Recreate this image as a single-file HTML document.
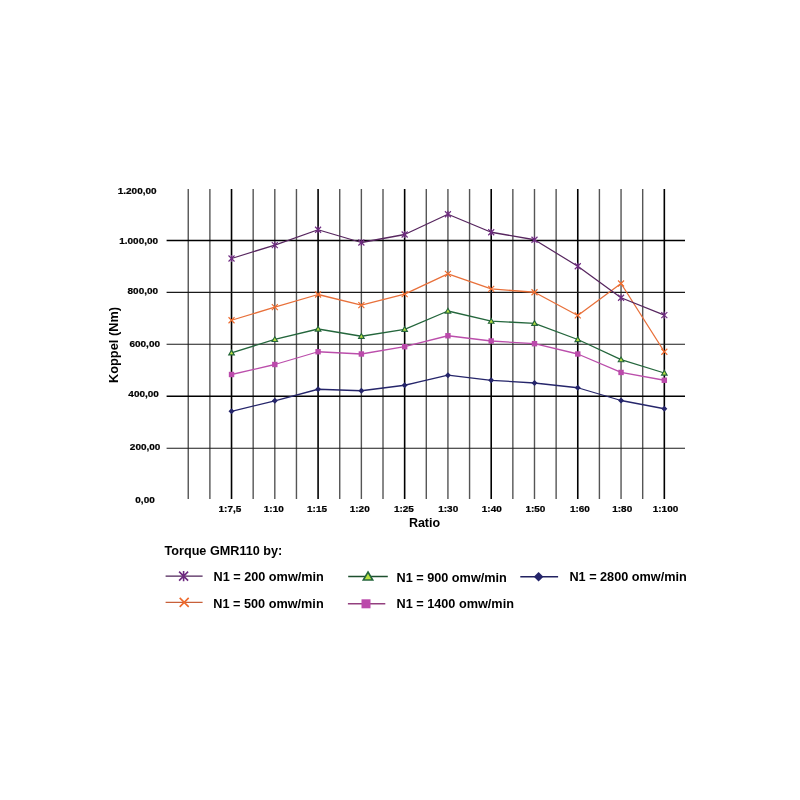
<!DOCTYPE html>
<html><head><meta charset="utf-8"><title>Torque GMR110</title>
<style>html,body{margin:0;padding:0;background:#fff;}svg{display:block;will-change:transform;}text{font-family:"Liberation Sans",Arial,Helvetica,sans-serif;font-weight:bold;fill:#000;}.t{stroke:#000;stroke-width:0.22px;}</style></head><body>
<svg width="800" height="800" viewBox="0 0 800 800">
<line x1="188.25" y1="189.0" x2="188.25" y2="499.0" stroke="#555" stroke-width="1.4"/>
<line x1="209.89" y1="189.0" x2="209.89" y2="499.0" stroke="#555" stroke-width="1.4"/>
<line x1="231.53" y1="189.0" x2="231.53" y2="499.0" stroke="#000" stroke-width="1.6"/>
<line x1="253.17" y1="189.0" x2="253.17" y2="499.0" stroke="#555" stroke-width="1.4"/>
<line x1="274.81" y1="189.0" x2="274.81" y2="499.0" stroke="#555" stroke-width="1.4"/>
<line x1="296.45" y1="189.0" x2="296.45" y2="499.0" stroke="#555" stroke-width="1.4"/>
<line x1="318.09" y1="189.0" x2="318.09" y2="499.0" stroke="#000" stroke-width="1.6"/>
<line x1="339.73" y1="189.0" x2="339.73" y2="499.0" stroke="#555" stroke-width="1.4"/>
<line x1="361.37" y1="189.0" x2="361.37" y2="499.0" stroke="#555" stroke-width="1.4"/>
<line x1="383.01" y1="189.0" x2="383.01" y2="499.0" stroke="#555" stroke-width="1.4"/>
<line x1="404.65" y1="189.0" x2="404.65" y2="499.0" stroke="#000" stroke-width="1.6"/>
<line x1="426.29" y1="189.0" x2="426.29" y2="499.0" stroke="#555" stroke-width="1.4"/>
<line x1="447.93" y1="189.0" x2="447.93" y2="499.0" stroke="#555" stroke-width="1.4"/>
<line x1="469.57" y1="189.0" x2="469.57" y2="499.0" stroke="#555" stroke-width="1.4"/>
<line x1="491.21" y1="189.0" x2="491.21" y2="499.0" stroke="#000" stroke-width="1.6"/>
<line x1="512.85" y1="189.0" x2="512.85" y2="499.0" stroke="#555" stroke-width="1.4"/>
<line x1="534.49" y1="189.0" x2="534.49" y2="499.0" stroke="#555" stroke-width="1.4"/>
<line x1="556.13" y1="189.0" x2="556.13" y2="499.0" stroke="#555" stroke-width="1.4"/>
<line x1="577.77" y1="189.0" x2="577.77" y2="499.0" stroke="#000" stroke-width="1.6"/>
<line x1="599.41" y1="189.0" x2="599.41" y2="499.0" stroke="#555" stroke-width="1.4"/>
<line x1="621.05" y1="189.0" x2="621.05" y2="499.0" stroke="#555" stroke-width="1.4"/>
<line x1="642.69" y1="189.0" x2="642.69" y2="499.0" stroke="#555" stroke-width="1.4"/>
<line x1="664.33" y1="189.0" x2="664.33" y2="499.0" stroke="#000" stroke-width="1.6"/>
<line x1="166.6" y1="240.5" x2="685.0" y2="240.5" stroke="#000" stroke-width="1.6"/>
<line x1="166.6" y1="292.4" x2="685.0" y2="292.4" stroke="#1a1a1a" stroke-width="1.1"/>
<line x1="166.6" y1="344.3" x2="685.0" y2="344.3" stroke="#1a1a1a" stroke-width="1.1"/>
<line x1="166.6" y1="396.3" x2="685.0" y2="396.3" stroke="#000" stroke-width="1.6"/>
<line x1="166.6" y1="448.3" x2="685.0" y2="448.3" stroke="#1a1a1a" stroke-width="1.1"/>
<text transform="translate(156.60 194.40) scale(1.111 1)" class="t" font-size="9.0" text-anchor="end">1.200,00</text>
<text transform="translate(158.10 244.25) scale(1.111 1)" class="t" font-size="9.0" text-anchor="end">1.000,00</text>
<text transform="translate(158.10 294.25) scale(1.111 1)" class="t" font-size="9.0" text-anchor="end">800,00</text>
<text transform="translate(160.00 346.50) scale(1.111 1)" class="t" font-size="9.0" text-anchor="end">600,00</text>
<text transform="translate(158.90 397.00) scale(1.111 1)" class="t" font-size="9.0" text-anchor="end">400,00</text>
<text transform="translate(160.40 449.50) scale(1.111 1)" class="t" font-size="9.0" text-anchor="end">200,00</text>
<text transform="translate(154.75 503.10) scale(1.111 1)" class="t" font-size="9.0" text-anchor="end">0,00</text>
<text transform="translate(229.95 511.6) scale(1.111 1)" class="t" font-size="9.0" text-anchor="middle">1:7,5</text>
<text transform="translate(273.75 511.6) scale(1.111 1)" class="t" font-size="9.0" text-anchor="middle">1:10</text>
<text transform="translate(317.00 511.6) scale(1.111 1)" class="t" font-size="9.0" text-anchor="middle">1:15</text>
<text transform="translate(359.70 511.6) scale(1.111 1)" class="t" font-size="9.0" text-anchor="middle">1:20</text>
<text transform="translate(403.90 511.6) scale(1.111 1)" class="t" font-size="9.0" text-anchor="middle">1:25</text>
<text transform="translate(448.20 511.6) scale(1.111 1)" class="t" font-size="9.0" text-anchor="middle">1:30</text>
<text transform="translate(491.75 511.6) scale(1.111 1)" class="t" font-size="9.0" text-anchor="middle">1:40</text>
<text transform="translate(535.40 511.6) scale(1.111 1)" class="t" font-size="9.0" text-anchor="middle">1:50</text>
<text transform="translate(579.90 511.6) scale(1.111 1)" class="t" font-size="9.0" text-anchor="middle">1:60</text>
<text transform="translate(622.20 511.6) scale(1.111 1)" class="t" font-size="9.0" text-anchor="middle">1:80</text>
<text transform="translate(665.50 511.6) scale(1.111 1)" class="t" font-size="9.0" text-anchor="middle">1:100</text>
<text x="424.5" y="527.0" font-size="12.5" text-anchor="middle">Ratio</text>
<text transform="translate(118 345) rotate(-90)" x="0" y="0" font-size="12.8" text-anchor="middle">Koppel (Nm)</text>
<polyline points="231.53,411.30 274.81,400.80 318.09,389.25 361.37,390.75 404.65,385.25 447.93,375.20 491.21,380.30 534.49,383.00 577.77,387.75 621.05,400.50 664.33,408.75" fill="none" stroke="#25256a" stroke-width="1.3" stroke-linejoin="round"/>
<path d="M231.53 408.30L234.53 411.30L231.53 414.30L228.53 411.30Z" fill="#25256a"/>
<path d="M274.81 397.80L277.81 400.80L274.81 403.80L271.81 400.80Z" fill="#25256a"/>
<path d="M318.09 386.25L321.09 389.25L318.09 392.25L315.09 389.25Z" fill="#25256a"/>
<path d="M361.37 387.75L364.37 390.75L361.37 393.75L358.37 390.75Z" fill="#25256a"/>
<path d="M404.65 382.25L407.65 385.25L404.65 388.25L401.65 385.25Z" fill="#25256a"/>
<path d="M447.93 372.20L450.93 375.20L447.93 378.20L444.93 375.20Z" fill="#25256a"/>
<path d="M491.21 377.30L494.21 380.30L491.21 383.30L488.21 380.30Z" fill="#25256a"/>
<path d="M534.49 380.00L537.49 383.00L534.49 386.00L531.49 383.00Z" fill="#25256a"/>
<path d="M577.77 384.75L580.77 387.75L577.77 390.75L574.77 387.75Z" fill="#25256a"/>
<path d="M621.05 397.50L624.05 400.50L621.05 403.50L618.05 400.50Z" fill="#25256a"/>
<path d="M664.33 405.75L667.33 408.75L664.33 411.75L661.33 408.75Z" fill="#25256a"/>
<polyline points="231.53,374.50 274.81,364.50 318.09,351.75 361.37,354.00 404.65,346.70 447.93,335.75 491.21,341.00 534.49,343.70 577.77,354.00 621.05,372.45 664.33,380.25" fill="none" stroke="#bb4eab" stroke-width="1.3" stroke-linejoin="round"/>
<rect x="228.83" y="371.80" width="5.40" height="5.40" fill="#bb4aab"/>
<rect x="272.11" y="361.80" width="5.40" height="5.40" fill="#bb4aab"/>
<rect x="315.39" y="349.05" width="5.40" height="5.40" fill="#bb4aab"/>
<rect x="358.67" y="351.30" width="5.40" height="5.40" fill="#bb4aab"/>
<rect x="401.95" y="344.00" width="5.40" height="5.40" fill="#bb4aab"/>
<rect x="445.23" y="333.05" width="5.40" height="5.40" fill="#bb4aab"/>
<rect x="488.51" y="338.30" width="5.40" height="5.40" fill="#bb4aab"/>
<rect x="531.79" y="341.00" width="5.40" height="5.40" fill="#bb4aab"/>
<rect x="575.07" y="351.30" width="5.40" height="5.40" fill="#bb4aab"/>
<rect x="618.35" y="369.75" width="5.40" height="5.40" fill="#bb4aab"/>
<rect x="661.63" y="377.55" width="5.40" height="5.40" fill="#bb4aab"/>
<polyline points="231.53,352.80 274.81,339.45 318.09,329.00 361.37,336.25 404.65,329.30 447.93,311.00 491.21,321.20 534.49,323.30 577.77,339.50 621.05,359.70 664.33,373.00" fill="none" stroke="#24663c" stroke-width="1.3" stroke-linejoin="round"/>
<path d="M231.53 350.14L234.33 354.90L228.73 354.90Z" stroke="#24663c" stroke-width="1.1" fill="#b8e040"/>
<path d="M274.81 336.79L277.61 341.55L272.01 341.55Z" stroke="#24663c" stroke-width="1.1" fill="#b8e040"/>
<path d="M318.09 326.34L320.89 331.10L315.29 331.10Z" stroke="#24663c" stroke-width="1.1" fill="#b8e040"/>
<path d="M361.37 333.59L364.17 338.35L358.57 338.35Z" stroke="#24663c" stroke-width="1.1" fill="#b8e040"/>
<path d="M404.65 326.64L407.45 331.40L401.85 331.40Z" stroke="#24663c" stroke-width="1.1" fill="#b8e040"/>
<path d="M447.93 308.34L450.73 313.10L445.13 313.10Z" stroke="#24663c" stroke-width="1.1" fill="#b8e040"/>
<path d="M491.21 318.54L494.01 323.30L488.41 323.30Z" stroke="#24663c" stroke-width="1.1" fill="#b8e040"/>
<path d="M534.49 320.64L537.29 325.40L531.69 325.40Z" stroke="#24663c" stroke-width="1.1" fill="#b8e040"/>
<path d="M577.77 336.84L580.57 341.60L574.97 341.60Z" stroke="#24663c" stroke-width="1.1" fill="#b8e040"/>
<path d="M621.05 357.04L623.85 361.80L618.25 361.80Z" stroke="#24663c" stroke-width="1.1" fill="#b8e040"/>
<path d="M664.33 370.34L667.13 375.10L661.53 375.10Z" stroke="#24663c" stroke-width="1.1" fill="#b8e040"/>
<polyline points="231.53,320.25 274.81,307.20 318.09,294.50 361.37,305.20 404.65,294.20 447.93,273.95 491.21,288.95 534.49,292.25 577.77,315.45 621.05,283.50 664.33,351.75" fill="none" stroke="#e8703a" stroke-width="1.3" stroke-linejoin="round"/>
<path d="M228.53 317.25L234.53 323.25M234.53 317.25L228.53 323.25" stroke="#ee6a2c" stroke-width="1.1" fill="none"/>
<path d="M271.81 304.20L277.81 310.20M277.81 304.20L271.81 310.20" stroke="#ee6a2c" stroke-width="1.1" fill="none"/>
<path d="M315.09 291.50L321.09 297.50M321.09 291.50L315.09 297.50" stroke="#ee6a2c" stroke-width="1.1" fill="none"/>
<path d="M358.37 302.20L364.37 308.20M364.37 302.20L358.37 308.20" stroke="#ee6a2c" stroke-width="1.1" fill="none"/>
<path d="M401.65 291.20L407.65 297.20M407.65 291.20L401.65 297.20" stroke="#ee6a2c" stroke-width="1.1" fill="none"/>
<path d="M444.93 270.95L450.93 276.95M450.93 270.95L444.93 276.95" stroke="#ee6a2c" stroke-width="1.1" fill="none"/>
<path d="M488.21 285.95L494.21 291.95M494.21 285.95L488.21 291.95" stroke="#ee6a2c" stroke-width="1.1" fill="none"/>
<path d="M531.49 289.25L537.49 295.25M537.49 289.25L531.49 295.25" stroke="#ee6a2c" stroke-width="1.1" fill="none"/>
<path d="M574.77 312.45L580.77 318.45M580.77 312.45L574.77 318.45" stroke="#ee6a2c" stroke-width="1.1" fill="none"/>
<path d="M618.05 280.50L624.05 286.50M624.05 280.50L618.05 286.50" stroke="#ee6a2c" stroke-width="1.1" fill="none"/>
<path d="M661.33 348.75L667.33 354.75M667.33 348.75L661.33 354.75" stroke="#ee6a2c" stroke-width="1.1" fill="none"/>
<polyline points="231.53,258.50 274.81,245.10 318.09,229.75 361.37,242.50 404.65,234.50 447.93,214.25 491.21,232.25 534.49,239.75 577.77,266.25 621.05,297.75 664.33,315.20" fill="none" stroke="#57265f" stroke-width="1.3" stroke-linejoin="round"/>
<path d="M228.53 255.50L234.53 261.50M234.53 255.50L228.53 261.50M231.53 254.90L231.53 262.10" stroke="#6e2a80" stroke-width="1.1" fill="none"/>
<path d="M271.81 242.10L277.81 248.10M277.81 242.10L271.81 248.10M274.81 241.50L274.81 248.70" stroke="#6e2a80" stroke-width="1.1" fill="none"/>
<path d="M315.09 226.75L321.09 232.75M321.09 226.75L315.09 232.75M318.09 226.15L318.09 233.35" stroke="#6e2a80" stroke-width="1.1" fill="none"/>
<path d="M358.37 239.50L364.37 245.50M364.37 239.50L358.37 245.50M361.37 238.90L361.37 246.10" stroke="#6e2a80" stroke-width="1.1" fill="none"/>
<path d="M401.65 231.50L407.65 237.50M407.65 231.50L401.65 237.50M404.65 230.90L404.65 238.10" stroke="#6e2a80" stroke-width="1.1" fill="none"/>
<path d="M444.93 211.25L450.93 217.25M450.93 211.25L444.93 217.25M447.93 210.65L447.93 217.85" stroke="#6e2a80" stroke-width="1.1" fill="none"/>
<path d="M488.21 229.25L494.21 235.25M494.21 229.25L488.21 235.25M491.21 228.65L491.21 235.85" stroke="#6e2a80" stroke-width="1.1" fill="none"/>
<path d="M531.49 236.75L537.49 242.75M537.49 236.75L531.49 242.75M534.49 236.15L534.49 243.35" stroke="#6e2a80" stroke-width="1.1" fill="none"/>
<path d="M574.77 263.25L580.77 269.25M580.77 263.25L574.77 269.25M577.77 262.65L577.77 269.85" stroke="#6e2a80" stroke-width="1.1" fill="none"/>
<path d="M618.05 294.75L624.05 300.75M624.05 294.75L618.05 300.75M621.05 294.15L621.05 301.35" stroke="#6e2a80" stroke-width="1.1" fill="none"/>
<path d="M661.33 312.20L667.33 318.20M667.33 312.20L661.33 318.20M664.33 311.60L664.33 318.80" stroke="#6e2a80" stroke-width="1.1" fill="none"/>
<text x="164.5" y="555.0" font-size="12.65">Torque GMR110 by:</text>
<line x1="165.6" y1="576.1" x2="202.6" y2="576.1" stroke="#4e2258" stroke-width="1.4"/>
<path d="M179.10 571.60L188.10 580.60M188.10 571.60L179.10 580.60M183.60 571.00L183.60 581.20" stroke="#6e2a80" stroke-width="1.6" fill="none"/>
<text x="213.5" y="581.0" font-size="12.7">N1 = 200 omw/min</text>
<line x1="165.6" y1="602.4" x2="202.6" y2="602.4" stroke="#c8603a" stroke-width="1.4"/>
<path d="M179.70 597.90L188.70 606.90M188.70 597.90L179.70 606.90" stroke="#ee6a2c" stroke-width="1.6" fill="none"/>
<text x="213.3" y="607.9" font-size="12.7">N1 = 500 omw/min</text>
<line x1="348.2" y1="576.5" x2="387.8" y2="576.5" stroke="#1d4f2e" stroke-width="1.4"/>
<path d="M368.00 572.03L372.70 580.02L363.30 580.02Z" stroke="#24663c" stroke-width="1.6" fill="#b8e040"/>
<text x="396.5" y="581.8" font-size="12.7">N1 = 900 omw/min</text>
<line x1="347.9" y1="603.8" x2="385.3" y2="603.8" stroke="#93407f" stroke-width="1.4"/>
<rect x="361.50" y="599.30" width="9.00" height="9.00" fill="#bb4aab"/>
<text x="396.5" y="607.9" font-size="12.7">N1 = 1400 omw/min</text>
<line x1="520.3" y1="576.8" x2="558.1" y2="576.8" stroke="#222260" stroke-width="1.4"/>
<path d="M538.60 572.00L543.40 576.80L538.60 581.60L533.80 576.80Z" fill="#25256a"/>
<text x="569.4" y="580.6" font-size="12.7">N1 = 2800 omw/min</text>
</svg></body></html>
